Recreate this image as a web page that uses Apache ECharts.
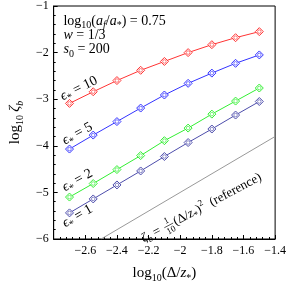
<!DOCTYPE html>
<html><head><meta charset="utf-8">
<script src="https://cdn.jsdelivr.net/npm/echarts@6/dist/echarts.min.js"></script>
<style>html,body{margin:0;padding:0;background:#fff}#c{width:289px;height:288px}</style>
</head><body><div id="c"></div>
<script>
// ---- data ----
const xVals = [-2.7, -2.55, -2.4, -2.25, -2.1, -1.95, -1.8, -1.65, -1.5];
const eps10 = [-3.09, -2.84, -2.60, -2.38, -2.19, -2.00, -1.83, -1.68, -1.55];
const eps5  = [-4.07, -3.77, -3.48, -3.19, -2.91, -2.66, -2.44, -2.23, -2.05];
const eps2  = [-5.10, -4.81, -4.51, -4.21, -3.89, -3.62, -3.32, -3.04, -2.76];
const eps1  = [-5.44, -5.14, -4.84, -4.54, -4.23, -3.93, -3.64, -3.34, -3.05];
const refX  = [-2.5, -1.4];
const refY  = [-6.0, -3.8];
const xTicks = [-2.6, -2.4, -2.2, -2.0, -1.8, -1.6, -1.4];
const yTicks = [-6, -5, -4, -3, -2, -1];
const epsNames = ['10', '5', '2', '1'];

// ---- styles ----
const F = "'Liberation Serif','DejaVu Serif',serif";
const colors = ['#ff3333', '#3333ff', '#33ee33', '#4d4dab'];
function rich(sz) {
  const ss = Math.round(sz * 0.68);
  return {
    n:  {fontFamily: F, fontSize: sz, color: '#000'},
    i:  {fontFamily: F, fontSize: sz, fontStyle: 'italic', color: '#000'},
    s:  {fontFamily: F, fontSize: ss, color: '#000', padding: [sz * 0.6, 0, 0, 0]},
    si: {fontFamily: F, fontSize: ss, fontStyle: 'italic', color: '#000', padding: [sz * 0.6, 0, 0, 0]},
    sup:{fontFamily: F, fontSize: ss, color: '#000', padding: [0, 0, sz * 0.7, 0]}
  };
}
const fmt = v => (v < 0 ? '\u2212' : '') + String(Math.abs(Math.round(v * 10) / 10));

const chart = echarts.init(document.getElementById('c'), null, {renderer: 'canvas'});
const series = [eps10, eps5, eps2, eps1].map((ys, k) => ({
  type: 'line', data: xVals.map((x, j) => [x, ys[j]]),
  symbol: 'diamond', symbolSize: 8, showAllSymbol: true,
  lineStyle: {color: colors[k], width: 1},
  itemStyle: {color: '#fff', borderColor: colors[k], borderWidth: 1},
  z: 3, animation: false
}));
[eps10, eps5, eps2, eps1].forEach((ys, k) => series.push({
  type: 'scatter', data: xVals.map((x, j) => [x, ys[j]]),
  symbol: 'circle', symbolSize: 3.5,
  itemStyle: {color: 'transparent', borderColor: colors[k], borderWidth: 0.8},
  z: 4, silent: true, animation: false
}));
series.push({
  type: 'line', data: refX.map((x, j) => [x, refY[j]]), symbol: 'none',
  lineStyle: {color: '#999', width: 1}, z: 2, animation: false
});

chart.setOption({
  animation: false,
  grid: {left: 34, right: 10, top: 4, bottom: 39, show: true, borderColor: '#000', borderWidth: 1},
  xAxis: {
    type: 'value', min: -2.8, max: -1.4, interval: 0.2,
    axisLine: {lineStyle: {color: '#000'}},
    axisTick: {inside: true, length: 4, lineStyle: {color: '#000'}},
    minorTick: {show: true, splitNumber: 5, length: 2, lineStyle: {color: '#000'}},
    splitLine: {show: false},
    axisLabel: {showMinLabel: false, color: '#000', fontFamily: F, fontSize: 12, margin: 6,
      formatter: v => (xTicks.some(t => Math.abs(t - v) < 1e-6) ? fmt(v) : '')},
    name: '{n|log}{s|10}{n|(Δ/}{i|z}{s|*}{n|)}', nameLocation: 'middle', nameGap: 25,
    nameTextStyle: {rich: rich(15)}
  },
  yAxis: {
    type: 'value', min: -6, max: -1, interval: 1,
    axisLine: {lineStyle: {color: '#000'}},
    axisTick: {inside: true, length: 4, lineStyle: {color: '#000'}},
    minorTick: {show: true, splitNumber: 5, length: 2, lineStyle: {color: '#000'}},
    splitLine: {show: false},
    axisLabel: {color: '#000', fontFamily: F, fontSize: 12, margin: 5,
      formatter: v => (yTicks.includes(Math.round(v)) ? fmt(v) : '')},
    name: '{n|log}{s|10} {i|ζ}{si|b}', nameLocation: 'middle', nameGap: 19,
    nameTextStyle: {rich: rich(15)}
  },
  series: series
});

// ---- annotations (anchored in data coordinates) ----
const labelAnchors = [[-2.64, -2.77, 26], [-2.65, -3.74, 29], [-2.65, -4.74, 29], [-2.65, -5.51, 30]];
const g = [];
labelAnchors.forEach((a, k) => {
  const p = chart.convertToPixel({gridIndex: 0}, [a[0], a[1]]);
  g.push({type: 'text', x: p[0], y: p[1], rotation: a[2] * Math.PI / 180,
    style: {text: '{i|ϵ}{s|*}{n| = ' + epsNames[k] + '}', rich: rich(14), align: 'center', verticalAlign: 'middle'}});
});
const infoLines = [
  '{n|log}{s|10}{n|(}{i|a}{si|f}{n|/}{i|a}{s|*}{n|) = 0.75}',
  '{i|w}{n| = 1/3}',
  '{i|s}{s|0}{n| = 200}'
];
const infoAnchors = [[-2.738, -1.33], [-2.738, -1.63], [-2.738, -1.94]];
infoLines.forEach((t, k) => {
  const p = chart.convertToPixel({gridIndex: 0}, infoAnchors[k]);
  g.push({type: 'text', x: p[0], y: p[1],
    style: {text: t, rich: rich(14), align: 'left', verticalAlign: 'middle'}});
});
// reference label along the grey line
const rp = chart.convertToPixel({gridIndex: 0}, [-2.24, -6.01]);
const ang = 28 * Math.PI / 180;
const rs = rich(13);
g.push({type: 'group', x: rp[0], y: rp[1], rotation: ang, children: [
  {type: 'text', x: 0, y: 0, style: {text: '{i|ζ}{si|b}{n| =}', rich: rs, align: 'left', verticalAlign: 'middle'}},
  {type: 'text', x: 30, y: -5, style: {text: '1', fontFamily: F, fontSize: 9, fill: '#000', align: 'center', verticalAlign: 'middle'}},
  {type: 'line', shape: {x1: 25, y1: 0, x2: 35, y2: 0}, style: {stroke: '#000', lineWidth: 0.6}},
  {type: 'text', x: 30, y: 5.5, style: {text: '10', fontFamily: F, fontSize: 9, fill: '#000', align: 'center', verticalAlign: 'middle'}},
  {type: 'text', x: 36, y: 0, style: {text: '{n|(Δ/}{i|z}{s|*}{n|)}{sup|2}{n|  (reference)}', rich: rs, align: 'left', verticalAlign: 'middle'}}
]});
chart.setOption({graphic: g});
</script></body></html>
